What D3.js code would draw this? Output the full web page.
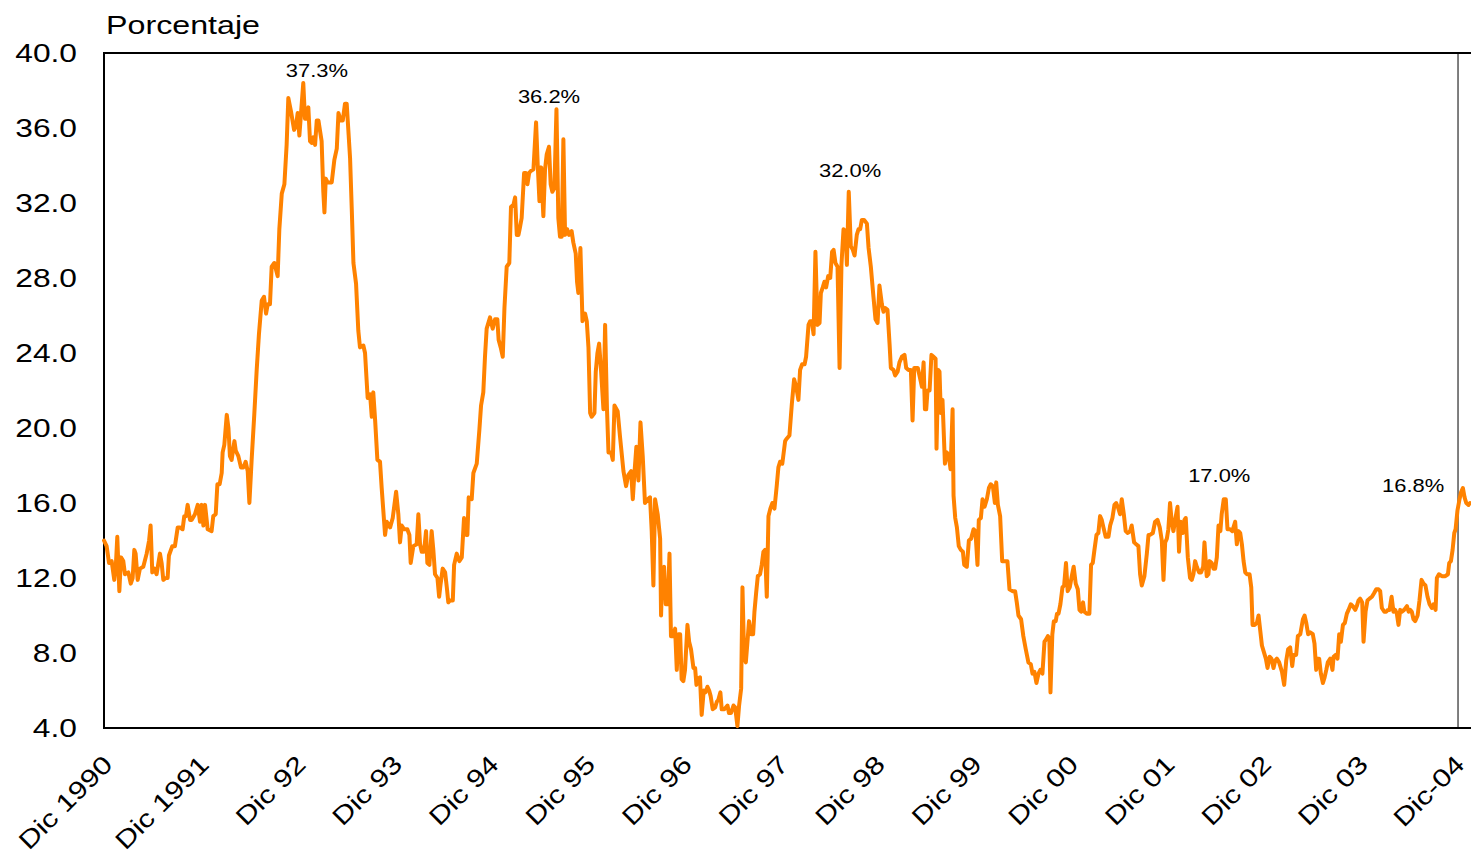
<!DOCTYPE html>
<html>
<head>
<meta charset="utf-8">
<script src="https://cdn.jsdelivr.net/npm/d3@7"></script>
<style>
  html, body { margin: 0; padding: 0; background: #ffffff; }
  svg { display: block; }
  text { font-family: "Liberation Sans", Arial, sans-serif; fill: #000; }
</style>
</head>
<body>
<svg id="chart" width="1471" height="855"></svg>
<script>
// ---- data (weekly index since Dic 1990, rate in %) ----
const weeks = [
0,1.4,2.7,4.1,5.5,6.4,7.1,8.2,9.1,10.3,11.2,13.0,14.3,15.3,16.2,16.9,18.0,19.2,21.0,22.8,24.1,24.9,25.8,26.9,28.1,29.9,30.8,31.7,33.0,34.0,34.7,36.5,37.9,39.4,40.6,42.0,42.9,43.8,44.7,46.0,46.9,48.6,50.1,51.3,52.2,53.1,54.0,55.4,57.5,58.4,59.7,60.6,61.8,62.9,63.4,64.3,65.6,66.5,67.3,68.2,69.7,70.4,71.8,73.2,74.5,75.7,76.8,77.7,78.9,80.3,81.6,82.8,84.3,85.5,86.6,87.5,88.7,89.6,91.0,92.8,93.7,95.0,96.4,97.6,98.5,99.9,101.6,102.6,103.5,104.4,105.3,106.5,107.4,108.3,109.2,110.1,111.0,111.9,112.8,113.7,114.6,116.3,117.2,117.8,118.5,119.5,121.7,123.1,
124.4,125.3,126.5,127.6,128.8,129.7,131.5,132.4,133.3,134.7,135.9,136.8,138.6,139.5,140.9,142.2,143.1,143.9,144.9,146.1,147.5,148.4,150.2,151.1,152.9,154.3,156.1,157.3,158.2,159.1,160.4,162.1,163.2,163.9,165.3,167.1,168.0,168.9,169.8,171.0,172.1,172.8,173.9,175.1,176.0,176.9,178.2,179.1,179.9,181.0,182.3,183.2,184.0,184.9,186.4,187.1,188.5,189.9,191.2,192.4,193.5,194.2,194.9,196.5,197.4,199.2,200.6,201.5,202.7,203.6,204.5,206.3,207.7,209.0,210.2,210.9,212.0,213.1,214.0,215.2,216.6,217.5,218.8,219.7,220.6,221.5,222.3,223.2,224.5,225.5,226.3,227.2,228.0,229.5,230.9,231.8,232.7,233.6,234.8,235.7,236.6,237.8,238.7,239.6,240.7,241.8,242.8,243.7,
244.6,245.5,246.4,247.5,248.5,249.9,250.8,252.1,252.8,253.5,254.6,255.7,257.1,258.0,258.9,259.8,260.6,262.1,262.8,263.7,264.6,265.6,266.9,267.8,268.8,269.6,271.0,271.9,272.8,274.5,275.8,277.6,279.0,280.2,281.7,282.6,283.4,284.5,285.6,286.7,287.9,289.1,290.6,291.8,292.7,293.6,294.5,295.9,297.2,297.7,298.4,299.3,300.2,301.3,302.2,303.0,304.3,305.2,306.1,307.0,307.9,308.7,309.6,310.5,311.8,312.7,313.7,315.0,315.9,316.6,317.3,318.5,319.4,320.5,321.4,322.5,323.4,324.2,325.3,326.6,327.5,328.3,329.4,330.1,331.5,333.2,334.0,335.1,336.4,337.3,338.5,339.4,340.5,341.2,342.1,343.0,343.8,344.7,345.8,346.9,347.6,348.5,349.4,350.6,351.5,352.4,353.3,354.2,355.1,356.1,357.2,358.3,359.5,360.4,361.3,362.5,364.0,
364.6,366.3,367.6,368.8,369.9,371.1,372.0,373.1,374.4,375.2,376.5,377.4,378.3,379.2,380.2,381.3,382.4,383.1,384.1,385.0,385.9,387.0,388.1,389.1,389.9,390.9,392.0,393.1,394.1,395.2,396.3,397.0,398.0,399.1,400.2,401.1,402.3,403.2,404.1,405.0,406.2,407.7,408.6,409.8,411.2,412.3,413.4,414.4,415.7,416.6,417.5,418.7,419.8,420.5,421.9,422.8,424.1,425.1,426.4,427.8,428.7,429.9,431.2,432.1,433.0,434.0,434.9,435.8,437.1,438.0,438.7,439.4,440.1,441.2,442.2,443.3,444.4,444.9,445.8,446.5,447.2,448.1,449.4,450.4,451.5,452.4,453.5,454.0,454.9,455.8,456.8,457.9,459.0,459.7,461.1,462.2,463.4,464.7,465.7,466.8,467.5,468.6,469.5,470.6,471.8,472.9,473.9,475.0,476.1,476.8,477.7,478.9,480.0,481.1,482.8,483.9,
485.5,486.9,487.8,488.7,490.1,491.3,492.6,494.0,495.3,496.2,497.2,498.3,499.4,500.4,501.5,502.6,503.3,504.4,505.2,505.8,506.8,507.6,508.6,509.3,510.1,511.1,512.2,513.1,514.1,515.0,516.1,517.2,518.2,519.3,520.4,521.3,522.2,523.2,523.9,525.2,526.6,527.5,528.4,529.3,530.4,531.4,532.3,533.2,534.1,535.3,536.8,537.7,538.9,540.0,540.9,542.1,543.0,543.9,545.0,546.0,547.1,548.4,549.2,550.5,551.6,552.8,553.7,554.6,556.0,557.3,558.2,559.0,560.5,561.7,563.0,564.2,565.3,566.2,567.1,568.0,568.8,569.7,570.6,571.5,572.8,573.7,574.5,575.4,576.5,577.4,578.1,579.2,580.4,581.3,582.2,583.1,584.0,585.2,586.3,587.4,588.1,589.3,590.2,590.8,592.0,592.9,593.8,594.7,595.6,596.6,597.3,598.4,599.5,600.4,601.8,603.0,604.5,
605.4,606.3,607.2,608.1,609.0,609.9,610.8,612.2,613.1,613.8,614.9,616.1,617.0,617.9,618.8,619.7,620.9,621.8,622.9,623.9,625.0,625.9,626.8,628.0,629.5,630.7,631.8,632.8,633.9,635.0,635.7,637.1,638.0,639.3,640.7,641.6,642.5,643.5,644.6,646.0,646.9,647.8,648.5,649.4,650.3,651.4,652.3,653.2,654.0,655.3,656.5,657.1,658.3,659.2,660.1,661.0,662.1,663.1,664.2,665.1,666.3,667.4,668.7,669.5,670.4,671.3,672.4,673.1,674.2,675.2,676.3,677.6,678.8,679.9,681.1,682.0,682.9,684.2,685.2,686.1,687.0,688.1,689.1,690.0,690.9,691.8,692.7,693.6,694.8,696.3,697.2,698.1,698.9,699.8,700.7,702.0,703.0,704.1,705.2,706.2,707.3,708.4,709.6,710.5,711.6,712.3,713.4,715.0,716.8,718.2,718.9,719.8,720.7,721.6,722.3,723.3,724.4,725.3,726.2,727.1,728.0,729.2,730.0
];
const rates = [
14.0,13.7,12.8,12.9,11.9,12.8,14.2,11.3,13.1,12.9,12.2,12.3,11.7,12.0,13.5,13.3,11.9,12.5,12.6,13.3,14.0,14.8,12.3,12.5,12.2,13.3,12.8,11.9,12.0,12.0,13.2,13.7,13.7,14.7,14.7,14.6,15.3,15.3,15.9,15.1,15.1,15.4,15.9,15.0,15.9,14.8,15.9,14.6,14.5,15.3,15.4,17.0,17.0,17.6,18.7,19.1,20.7,20.0,18.5,18.3,19.3,18.8,18.5,17.9,17.9,18.2,17.7,16.0,18.3,20.7,23.1,25.0,26.8,27.0,26.1,26.6,26.6,28.6,28.8,28.1,30.6,32.5,33.0,35.1,37.6,36.9,35.9,36.1,36.8,35.6,36.8,38.4,36.5,36.5,37.1,35.3,35.2,35.5,35.1,36.4,36.4,35.3,32.6,31.5,33.3,33.1,33.1,34.3,
34.9,36.8,36.4,36.4,37.3,37.3,34.4,31.7,28.8,27.7,25.2,24.3,24.4,24.0,21.6,21.8,20.6,21.9,20.4,18.3,18.2,16.8,14.3,15.0,14.7,15.2,16.6,15.4,13.9,14.8,14.6,14.6,14.3,12.8,13.7,13.8,15.4,13.8,13.4,13.4,14.5,12.8,12.7,14.5,13.5,12.2,12.0,11.0,11.7,12.5,12.3,11.5,10.7,10.8,10.8,12.7,13.3,12.9,13.1,15.2,14.3,14.3,16.3,16.2,17.6,18.1,19.9,21.2,21.9,23.8,25.3,25.9,25.3,25.8,25.8,24.7,24.3,23.8,26.4,28.6,28.8,31.8,31.9,32.3,30.3,30.3,30.7,31.2,33.6,33.6,33.0,33.6,33.7,33.8,36.3,34.0,32.1,33.9,31.3,33.8,34.6,35.0,33.0,32.6,32.8,37.0,31.2,30.2,
30.2,35.4,30.3,30.6,30.3,30.5,29.9,29.3,27.8,27.2,29.6,25.7,26.1,25.7,24.3,20.8,20.6,20.8,23.0,24.0,24.5,23.1,21.0,25.5,21.0,18.7,18.7,18.3,21.2,20.9,19.5,17.7,16.9,17.5,17.7,16.2,17.5,19.0,17.2,20.3,18.5,16.0,16.2,16.3,14.5,11.6,16.2,15.4,14.1,10.0,12.5,12.6,10.6,10.6,13.3,8.9,8.9,9.3,7.1,9.0,9.0,6.6,6.5,7.1,9.5,8.6,8.2,7.2,7.2,6.3,6.6,6.7,4.7,6.0,5.9,6.2,6.0,5.7,5.0,5.1,5.4,5.5,5.9,5.0,5.0,5.2,4.8,4.8,5.2,5.1,4.1,5.2,6.1,11.5,7.8,7.5,8.5,9.7,9.0,9.0,10.2,11.2,12.1,12.2,12.7,13.4,13.5,11.0,15.3,15.7,16.0,15.7,16.9,17.9,18.2,18.1,19.3,
19.4,19.6,21.3,22.6,22.2,21.5,23.1,23.4,23.4,23.8,25.5,25.7,25.7,25.0,29.4,25.5,25.6,27.2,27.5,27.8,27.5,28.1,28.0,29.4,29.5,28.8,28.6,23.2,28.7,30.6,30.5,28.7,32.6,29.7,29.5,29.2,30.3,30.6,30.6,31.1,31.1,30.9,29.6,28.6,27.0,25.8,25.6,27.6,26.6,26.2,26.4,26.3,24.5,23.2,23.1,22.8,23.0,23.5,23.8,23.9,23.2,23.1,23.1,20.4,23.2,23.2,23.2,22.8,22.2,23.5,21.0,21.0,22.0,22.0,23.9,23.8,23.7,18.9,23.1,23.0,20.8,21.5,18.1,18.7,18.5,17.8,21.0,16.4,15.2,14.7,13.7,13.5,13.4,12.7,12.6,14.0,14.1,14.6,14.5,12.7,15.1,15.2,16.2,15.8,16.2,16.8,17.0,16.9,16.0,17.1,15.9,15.3,12.9,12.9,12.9,11.4,
11.3,11.3,10.7,10.0,9.8,8.9,8.2,7.5,7.4,6.9,7.0,6.4,6.9,7.1,6.9,8.6,8.7,8.9,8.8,5.9,9.0,9.7,9.7,10.1,10.1,10.6,11.5,11.6,12.8,11.3,11.5,12.1,12.6,11.7,11.4,10.3,10.2,10.7,10.2,10.1,10.1,12.7,12.8,13.5,14.3,14.4,15.3,15.1,14.7,14.2,14.2,14.8,15.2,15.9,16.0,15.7,15.4,16.2,15.4,14.5,14.4,14.5,14.8,13.9,13.8,13.7,12.2,11.6,12.1,13.3,14.3,14.3,14.4,15.0,15.1,14.7,14.0,11.9,13.9,14.1,14.6,16.0,15.0,14.5,15.3,15.8,13.4,15.0,14.4,15.1,15.2,13.1,12.0,11.9,12.2,12.9,12.6,12.3,12.3,12.6,13.9,12.1,12.2,12.9,12.8,12.5,12.5,13.1,14.8,14.5,15.4,16.2,16.2,14.6,14.6,14.5,15.0,
13.8,14.5,14.4,13.8,12.9,12.3,12.2,12.2,11.5,9.5,9.5,9.6,10.0,9.2,8.4,8.1,7.7,7.2,7.8,7.7,7.2,7.6,7.7,7.5,7.0,6.3,7.6,8.2,8.3,7.3,7.9,7.9,8.9,9.0,9.8,10.0,9.6,9.0,9.1,9.0,8.5,7.1,7.7,7.7,6.9,6.4,6.7,7.1,7.5,7.7,7.1,7.8,7.9,7.7,9.0,8.6,9.5,9.6,10.1,10.3,10.6,10.5,10.3,10.5,10.8,10.9,10.7,8.6,10.2,10.8,10.9,11.0,11.2,11.4,11.4,11.3,10.4,10.2,10.2,10.3,10.3,11.0,10.2,10.3,10.1,9.5,10.3,10.2,10.3,10.5,10.2,10.3,10.2,9.8,9.7,10.0,10.8,11.9,11.7,11.6,11.0,10.6,10.4,10.6,10.3,12.0,12.2,12.1,12.1,12.2,12.8,12.9,13.5,14.4,14.6,15.6,16.2,16.6,16.8,16.3,16.0,15.9,16.0
];
const yTicks = [4, 8, 12, 16, 20, 24, 28, 32, 36, 40];
const xLabels = ["Dic 1990","Dic 1991","Dic 92","Dic 93","Dic 94","Dic 95","Dic 96","Dic 97","Dic 98","Dic 99","Dic 00","Dic 01","Dic 02","Dic 03","Dic-04"];
const annTexts  = ["37.3%","36.2%","32.0%","17.0%","16.8%"];
const annWeeks  = [113.8, 237.8, 398.7, 596.0, 699.6];
const annLevels = [38.7, 37.33, 33.4, 17.1, 16.6];
const yTitle = "Porcentaje";

(function () {
  // ---- layout ----
  const W = 1471, H = 855;
  const pL = 104, pR = 1470, pT = 53, pB = 728;
  const stretch = 1.22;

  const svg = d3.select("#chart");
  svg.append("rect").attr("width", W).attr("height", H).attr("fill", "#fff");

  const x = d3.scaleLinear().domain([0, 730]).range([pL, pR]);
  const y = d3.scaleLinear().domain([4, 40]).range([pB, pT]);

  // frame
  const frame = svg.append("g");
  frame.append("line").attr("x1", pL).attr("x2", W).attr("y1", pT).attr("y2", pT)
    .attr("stroke", "#000").attr("stroke-width", 2);
  frame.append("line").attr("x1", pL).attr("x2", W).attr("y1", pB).attr("y2", pB)
    .attr("stroke", "#000").attr("stroke-width", 2);
  frame.append("line").attr("x1", pL).attr("x2", pL).attr("y1", pT - 1).attr("y2", pB + 1)
    .attr("stroke", "#000").attr("stroke-width", 2);
  frame.append("line").attr("x1", x(723.6)).attr("x2", x(723.6)).attr("y1", pT + 1).attr("y2", pB - 1)
    .attr("stroke", "#555").attr("stroke-width", 1.5);

  // line
  const data = weeks.map((w, i) => ({ w, v: rates[i] }));
  const line = d3.line().x(d => x(d.w)).y(d => y(d.v));
  svg.append("path").datum(data)
    .attr("d", line)
    .attr("fill", "none")
    .attr("stroke", "#FF8200")
    .attr("stroke-width", 4)
    .attr("stroke-linejoin", "round")
    .attr("stroke-linecap", "round");

  // y axis labels
  svg.append("g").selectAll("text").data(yTicks).join("text")
    .attr("transform", d => `translate(77,${y(d)}) scale(1.27,1)`)
    .attr("text-anchor", "end")
    .attr("dominant-baseline", "central")
    .attr("font-size", 25)
    .text(d => d3.format(".1f")(d));

  // y title
  svg.append("text")
    .attr("transform", `translate(106,34) scale(1.24,1)`)
    .attr("font-size", 26)
    .text(yTitle);

  // x labels
  const xl = d3.scalePoint().domain(xLabels).range([114, 1466]);
  svg.append("g").selectAll("text").data(xLabels).join("text")
    .attr("transform", d => `translate(${xl(d)},766) rotate(-45) scale(1.22,1)`)
    .attr("text-anchor", "end")
    .attr("font-size", 25)
    .text(d => d);

  // annotations
  svg.append("g").selectAll("text").data(annTexts).join("text")
    .attr("transform", (d, i) => `translate(${x(annWeeks[i])},${y(annLevels[i])}) scale(${stretch},1)`)
    .attr("text-anchor", "middle")
    .attr("font-size", 18)
    .text(d => d);
})();
</script>
</body>
</html>
